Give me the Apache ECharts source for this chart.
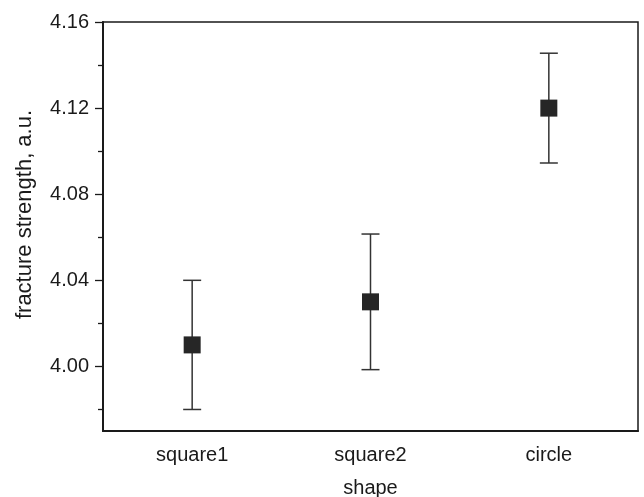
<!DOCTYPE html>
<html>
<head>
<meta charset="utf-8">
<script src="https://cdn.jsdelivr.net/npm/echarts@6/dist/echarts.min.js"></script>
<style>
  html, body { margin: 0; padding: 0; background: #fff; }
  #main { width: 644px; height: 497px; }
</style>
</head>
<body>
<div id="main"></div>
<script>
// shapes on the x axis
var categories = ['square1', 'square2', 'circle'];
// mean fracture strength and error bar ends
var means = [4.01, 4.03, 4.12];
var errLow = [3.98, 3.9985, 4.0945];
var errHigh = [4.04, 4.0615, 4.1455];
// y ticks
var majorTicks = [4.00, 4.04, 4.08, 4.12, 4.16];
var minorTicks = [3.98, 4.02, 4.06, 4.10, 4.14];
var yMin = 3.97, yMax = 4.16;

var font = 'Liberation Sans, Arial, sans-serif';
var ink = '#1a1a1a';

var errData = [];
for (var i = 0; i < categories.length; i++) {
    errData.push([i, errLow[i], errHigh[i]]);
}

var chart = echarts.init(document.getElementById('main'));
var option = {
    animation: false,
    grid: {
        left: 103, right: 6, top: 22, bottom: 66,
        outerBoundsMode: 'none',
        containLabel: false,
        show: true, borderColor: ink, borderWidth: 1.5, backgroundColor: 'transparent'
    },
    xAxis: {
        type: 'category',
        data: categories,
        boundaryGap: true,
        name: 'shape',
        nameLocation: 'middle',
        nameGap: 47,
        nameTextStyle: { fontFamily: font, fontSize: 20, color: ink },
        axisLine: { lineStyle: { color: ink, width: 2 } },
        axisTick: { alignWithLabel: true, length: 6, lineStyle: { color: ink, width: 1.3 } },
        axisLabel: { fontFamily: font, fontSize: 20, color: ink, margin: 14 },
        splitLine: { show: false }
    },
    yAxis: [{
        type: 'value',
        min: yMin, max: yMax,
        name: 'fracture strength, a.u.',
        nameLocation: 'middle',
        nameGap: 67,
        nameTextStyle: { fontFamily: font, fontSize: 22, color: ink, padding: [0, 0, 0, 24] },
        axisLine: { show: true, lineStyle: { color: ink, width: 2 } },
        axisTick: { show: true, length: 8, customValues: majorTicks, lineStyle: { color: ink, width: 1.3 } },
        axisLabel: {
            fontFamily: font, fontSize: 20, color: ink, margin: 14,
            customValues: majorTicks,
            formatter: function (v) { return v.toFixed(2); }
        },
        splitLine: { show: false }
    }, {
        type: 'value',
        position: 'left',
        min: yMin, max: yMax,
        axisLine: { show: false },
        axisTick: { show: true, length: 5, customValues: minorTicks, lineStyle: { color: ink, width: 1.3 } },
        axisLabel: { show: false },
        splitLine: { show: false }
    }],
    series: [{
        type: 'custom',
        data: errData,
        z: 2,
        renderItem: function (params, api) {
            var x = api.value(0);
            var lo = api.coord([x, api.value(1)]);
            var hi = api.coord([x, api.value(2)]);
            var hw = 9;
            var style = { stroke: '#333', lineWidth: 1.5 };
            return {
                type: 'group',
                children: [
                    { type: 'line', shape: { x1: hi[0], y1: hi[1], x2: lo[0], y2: lo[1] }, style: style },
                    { type: 'line', shape: { x1: hi[0] - hw, y1: hi[1], x2: hi[0] + hw, y2: hi[1] }, style: style },
                    { type: 'line', shape: { x1: lo[0] - hw, y1: lo[1], x2: lo[0] + hw, y2: lo[1] }, style: style }
                ]
            };
        }
    }, {
        type: 'scatter',
        data: means,
        z: 3,
        symbol: 'rect',
        symbolSize: 17,
        itemStyle: { color: '#262626', opacity: 1 }
    }]
};
chart.setOption(option);
</script>
</body>
</html>
